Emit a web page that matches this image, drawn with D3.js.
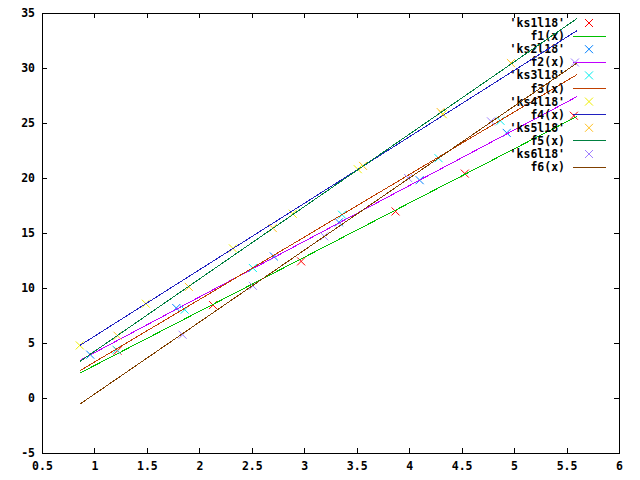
<!DOCTYPE html>
<html><head><meta charset="utf-8">
<script src="https://cdn.jsdelivr.net/npm/d3@7"></script>
<style>body{margin:0;background:#fff}svg{display:block}text{font-family:"DejaVu Sans Mono",monospace;font-weight:bold;font-size:11.5px;fill:#000}</style>
</head><body>
<script>
// ---- data ----
const xTicks = [0.5, 1, 1.5, 2, 2.5, 3, 3.5, 4, 4.5, 5, 5.5, 6];
const yTicks = [-5, 0, 5, 10, 15, 20, 25, 30, 35];
const xTickLabels = ["0.5","1","1.5","2","2.5","3","3.5","4","4.5","5","5.5","6"];
const yTickLabels = ["-5","0","5","10","15","20","25","30","35"];

const pointNames = ["'ks1l18'", "'ks2l18'", "'ks3l18'", "'ks4l18'", "'ks5l18'", "'ks6l18'"];
const lineNames = ["f1(x)", "f2(x)", "f3(x)", "f4(x)", "f5(x)", "f6(x)"];

const ks1 = [[1.22,4.3],[2.13,8.45],[2.97,12.42],[3.87,16.96],[4.53,20.4],[5.57,25.66]];
const ks2 = [[0.96,3.94],[1.78,8.18],[2.71,12.87],[3.33,15.97],[4.1,19.8],[4.93,24.1]];
const ks3 = [[1.21,4.39],[1.86,8.03],[2.51,11.82],[3.36,16.66],[4.28,21.8],[4.87,25.2]];
const ks4 = [[0.86,4.78],[1.49,8.57],[2.32,13.6],[2.89,16.75],[3.51,20.8],[4.32,25.8]];
const ks5 = [[1.22,5.66],[1.9,10.1],[2.7,15.45],[3.56,21.1],[4.3,26.0],[4.97,30.45]];
const ks6 = [[1.84,5.75],[2.51,10.2],[3.19,14.7],[3.99,20.0],[4.78,25.15],[5.58,30.5]];

const fitX = [0.862, 5.6];
const f1 = [2.27, 25.6];
const f2 = [3.42, 27.4];
const f3 = [2.48, 29.4];
const f4 = [4.78, 33.4];
const f5 = [3.33, 34.5];
const f6 = [-0.55, 30.45];

const pointColors = ["#ff0000", "#0080ff", "#00eeee", "#eeee00", "#ffc020", "#a080ff"];
const lineColors  = ["#00c000", "#c000ff", "#c04000", "#2020c0", "#008040", "#804000"];

const pointSets = [ks1, ks2, ks3, ks4, ks5, ks6];
const lineSets = [f1, f2, f3, f4, f5, f6];

// ---- drawing ----
const W = 640, H = 480;
const L = 42, R = 619, T = 13, B = 453;
const svg = d3.select("body").append("svg").attr("width", W).attr("height", H);
const x = d3.scaleLinear().domain([0.5, 6]).range([L, R]);
const y = d3.scaleLinear().domain([-5, 35]).range([B, T]);
const tk = 5;

function styleAxis(g, labels) {
  g.select(".domain").remove();
  g.selectAll(".tick line").attr("stroke", "#000").attr("shape-rendering", "crispEdges");
  g.selectAll(".tick text").attr("fill", "#000").style("font-family", null).style("font-size", null);
  if (!labels) g.selectAll(".tick text").remove();
  g.attr("font-family", null).attr("font-size", null);
}

const xb = svg.append("g").attr("transform", `translate(0,${B})`)
  .call(d3.axisBottom(x).tickValues(xTicks).tickSizeInner(-tk).tickSizeOuter(0).tickPadding(9)
    .tickFormat((d, i) => xTickLabels[i]));
styleAxis(xb, true);
const xt = svg.append("g").attr("transform", `translate(0,${T})`)
  .call(d3.axisTop(x).tickValues(xTicks).tickSizeInner(-tk).tickSizeOuter(0));
styleAxis(xt, false);
const yl = svg.append("g").attr("transform", `translate(${L},0)`)
  .call(d3.axisLeft(y).tickValues(yTicks).tickSizeInner(-tk).tickSizeOuter(0).tickPadding(7)
    .tickFormat((d, i) => yTickLabels[i]));
styleAxis(yl, true);
const yr = svg.append("g").attr("transform", `translate(${R},0)`)
  .call(d3.axisRight(y).tickValues(yTicks).tickSizeInner(-tk).tickSizeOuter(0));
styleAxis(yr, false);

svg.append("rect").attr("x", L).attr("y", T).attr("width", R - L).attr("height", B - T)
  .attr("fill", "none").attr("stroke", "#000").attr("shape-rendering", "crispEdges");

const crossPath = "M-4,-4L4,4M-4,4L4,-4";
const line = d3.line().x(d => x(d[0])).y(d => y(d[1]));
const keyTextX = 565, keyL0 = 573, keyL1 = 606, keyPX = 589, keyY0 = 23, keyDY = 13.1;

for (let i = 0; i < 6; i++) {
  // points
  const pg = svg.append("g");
  pg.selectAll("path").data(pointSets[i]).enter().append("path")
    .attr("d", crossPath)
    .attr("transform", d => `translate(${x(d[0])},${y(d[1])})`)
    .attr("stroke", pointColors[i]).attr("fill", "none").attr("stroke-width", 1);
  const ky = keyY0 + keyDY * (2 * i);
  svg.append("text").attr("x", keyTextX).attr("y", ky).attr("dy", "0.35em")
    .attr("text-anchor", "end").text(pointNames[i]);
  svg.append("path").attr("d", crossPath).attr("transform", `translate(${keyPX},${ky})`)
    .attr("stroke", pointColors[i]).attr("fill", "none");
  // line
  const ld = fitX.map((xv, j) => [xv, lineSets[i][j]]);
  svg.append("path").datum(ld).attr("d", line).attr("fill", "none")
    .attr("stroke", lineColors[i]).attr("stroke-width", 1).attr("shape-rendering", "crispEdges");
  const ky2 = keyY0 + keyDY * (2 * i + 1);
  svg.append("text").attr("x", keyTextX).attr("y", ky2).attr("dy", "0.35em")
    .attr("text-anchor", "end").text(lineNames[i]);
  svg.append("line").attr("x1", keyL0).attr("x2", keyL1).attr("y1", ky2).attr("y2", ky2)
    .attr("stroke", lineColors[i]).attr("shape-rendering", "crispEdges");
}
</script>
</body></html>
